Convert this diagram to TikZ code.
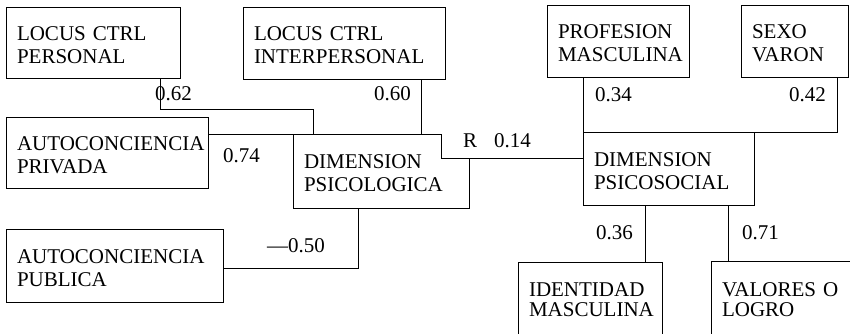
\documentclass[tikz,border=0pt]{standalone}
\usepackage{fontspec}
\setmainfont{Liberation Serif}
\usetikzlibrary{calc}
\hyphenpenalty=10000
\exhyphenpenalty=10000
\begin{document}
\begin{tikzpicture}[x=1pt,y=-1pt,
  box/.style={draw, line width=1pt, rectangle, anchor=north west, inner xsep=10.5pt, inner ysep=0pt,
    align=left, font=\fontsize{21}{23}\selectfont, text height=17pt, text depth=23pt},
  lowbox/.style={box, font=\fontsize{21}{20}\selectfont, text height=14pt, text depth=20pt},
  lab/.style={anchor=base west, inner sep=0pt, font=\fontsize{21}{23}\selectfont},
  conn/.style={line width=1pt}]
\useasboundingbox (0,0) rectangle (850,333);
\clip (0,0) rectangle (850,333);
% boxes
\node[box, minimum width=174pt, text width=153pt, minimum height=71pt] (lcp) at (6,7) {LOCUS CTRL\\PERSONAL};
\node[box, minimum width=202pt, text width=181pt, minimum height=72pt] (lci) at (243,7) {LOCUS CTRL\\INTERPERSONAL};
\node[box, minimum width=142pt, text width=121pt, minimum height=72pt] (prof) at (547,5) {PROFESION\\MASCULINA};
\node[box, minimum width=107pt, text width=86pt, minimum height=72pt] (sexo) at (741,5) {SEXO\\VARON};
\node[box, minimum width=202pt, text width=181pt, minimum height=71pt] (priv) at (6,117) {AUTOCONCIENCIA\\PRIVADA};
\node[box, draw=none, minimum width=175pt, text width=154pt, minimum height=73pt] (psil) at (293,134) {DIMENSION\\PSICOLOGICA};
\node[box, minimum width=217pt, text width=196pt, minimum height=73pt] (pub) at (6,229) {AUTOCONCIENCIA\\PUBLICA};
\node[box, minimum width=171pt, text width=150pt, minimum height=73pt] (psis) at (583,132) {DIMENSION\\PSICOSOCIAL};
\node[lowbox, minimum width=144pt, text width=123pt, minimum height=74pt] (idm) at (518,262) {IDENTIDAD\\MASCULINA};
\node[lowbox, minimum width=150pt, text width=129pt, minimum height=76pt] (val) at (711,261) {VALORES O\\LOGRO};
% notched outline of DIMENSION PSICOLOGICA
\coordinate (notch) at (441,158);
\draw[conn] (psil.north west) -- (notch |- psil.north) -- (notch) -- (psil.east |- notch)
  -- (psil.south east) -- (psil.south west) -- cycle;
% connectors
\draw[conn] (160,0 |- lcp.south) -- (160,109) -- (313,109) -- (313,0 |- psil.north);
\draw[conn] (421,0 |- lci.south) -- (421,0 |- psil.north);
\draw[conn] (priv.east |- psil.north) -- (psil.north west);
\draw[conn] (notch) -- (notch -| psis.west);
\draw[conn] (psis.north west |- prof.south) -- (psis.north west);
\draw[conn] (837,0 |- sexo.south) -- (837,0 |- psis.north) -- (psis.north east);
\draw[conn] (pub.east |- 0,268) -- (358,268) -- (358,0 |- psil.south);
\draw[conn] (645,0 |- psis.south) -- (645,0 |- idm.north);
\draw[conn] (728,0 |- psis.south) -- (728,0 |- val.north);
% labels
\node[lab] (l62) at (155,100) {0.62};
\node[lab] (l60) at (374,100) {0.60};
\node[lab] (l74) at (223,162) {0.74};
\node[lab] (lR) at (463,147) {R};
\node[lab] (l14) at (494,147) {0.14};
\node[lab] (l34) at (595,101) {0.34};
\node[lab] (l42) at (789,101) {0.42};
\node[lab] (l50) at (267,252) {---0.50};
\node[lab] (l36) at (596,239) {0.36};
\node[lab] (l71) at (742,239) {0.71};
\end{tikzpicture}
\end{document}
